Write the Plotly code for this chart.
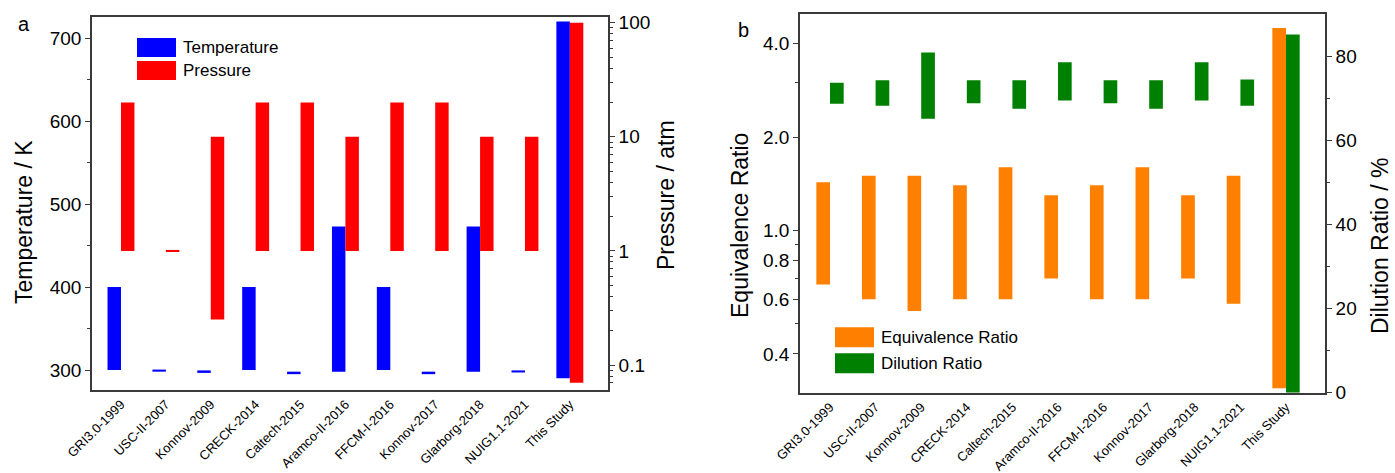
import plotly.graph_objects as go

# ---- data -------------------------------------------------------------
mechanisms = ["GRI3.0-1999", "USC-II-2007", "Konnov-2009", "CRECK-2014",
              "Caltech-2015", "Aramco-II-2016", "FFCM-I-2016", "Konnov-2017",
              "Glarborg-2018", "NUIG1.1-2021", "This Study"]

temp_low = [300, 298, 296.5, 300, 295, 298, 300, 295, 298, 297, 290]
temp_high = [400, 300.5, 299.5, 400, 298, 473, 400, 298, 473, 299.5, 720]

pres_low = [1, 0.98, 0.25, 1, 1, 1, 1, 1, 1, 1, 0.07]
pres_high = [20, 1.02, 10, 20, 20, 10, 20, 20, 10, 10, 100]

phi_low = [0.67, 0.60, 0.55, 0.60, 0.60, 0.70, 0.60, 0.60, 0.70, 0.58, 0.31]
phi_high = [1.43, 1.50, 1.50, 1.40, 1.60, 1.30, 1.40, 1.60, 1.30, 1.50, 4.50]

dil_low = [68.8, 68.3, 65.2, 68.9, 67.6, 69.6, 68.9, 67.6, 69.6, 68.3, 0]
dil_high = [73.8, 74.4, 81.0, 74.4, 74.4, 78.7, 74.4, 74.4, 78.7, 74.6, 85.3]

temp_ticks = [300, 400, 500, 600, 700]
pres_ticks = [0.1, 1, 10, 100]
phi_ticks = [0.4, 0.6, 0.8, 1.0, 2.0, 4.0]
dil_ticks = [0, 20, 40, 60, 80]

# ---- styling ----------------------------------------------------------
W, H = 1395, 473
FONT = "Liberation Sans, Arial, sans-serif"
AXIS_COLOR = "#3a3a3a"
BLUE, RED, ORANGE, GREEN = "#0000FF", "#FF0000", "#FF8000", "#008000"


def px(x):
    return x / W


def py(y):
    return 1 - y / H


def span(low, high):
    return [h - l for l, h in zip(low, high)]


BAR_W = 0.3

fig = go.Figure()

# panel a: temperature (left, linear) and pressure (right, log)
fig.add_trace(go.Bar(x=mechanisms, y=span(temp_low, temp_high), base=temp_low,
                     name="Temperature", marker=dict(color=BLUE, line_width=0),
                     offset=-BAR_W, width=BAR_W, xaxis="x", yaxis="y"))
fig.add_trace(go.Bar(x=mechanisms, y=span(pres_low, pres_high), base=pres_low,
                     name="Pressure", marker=dict(color=RED, line_width=0),
                     offset=0, width=BAR_W, xaxis="x", yaxis="y2"))

# panel b: equivalence ratio (left, log) and dilution ratio (right, linear)
fig.add_trace(go.Bar(x=mechanisms, y=span(phi_low, phi_high), base=phi_low,
                     name="Equivalence Ratio", marker=dict(color=ORANGE, line_width=0),
                     offset=-BAR_W, width=BAR_W, xaxis="x2", yaxis="y3"))
fig.add_trace(go.Bar(x=mechanisms, y=span(dil_low, dil_high), base=dil_low,
                     name="Dilution Ratio", marker=dict(color=GREEN, line_width=0),
                     offset=0, width=BAR_W, xaxis="x2", yaxis="y4"))

tick_font = dict(family=FONT, size=19, color="black")
cat_font = dict(family=FONT, size=13, color="black")

common_x = dict(type="category", showline=True, linecolor=AXIS_COLOR, linewidth=1.6,
                mirror=True, ticks="", tickangle=-45, tickfont=cat_font,
                showgrid=False, zeroline=False, automargin=False, fixedrange=True)
common_y = dict(showline=True, linecolor=AXIS_COLOR, linewidth=1.6, ticks="outside",
                ticklen=5, tickwidth=1.4, tickcolor=AXIS_COLOR, tickfont=tick_font,
                showgrid=False, zeroline=False, automargin=False)

minor_pres = [m * d for d in (0.01, 0.1, 1, 10) for m in range(2, 10)]

fig.update_layout(
    width=W, height=H,
    margin=dict(l=0, r=0, t=0, b=0),
    paper_bgcolor="white", plot_bgcolor="white",
    showlegend=False,
    font=dict(family=FONT, color="black"),
    xaxis=dict(common_x, domain=[px(92), px(608)], range=[-0.646, 10.85], anchor="y"),
    yaxis=dict(common_y, domain=[py(390), py(17)], range=[275.9, 725.3], anchor="x",
               side="left", tickmode="array", tickvals=temp_ticks,
               minor=dict(tickvals=[350, 450, 550, 650], ticklen=3, tickwidth=1.2,
                          tickcolor=AXIS_COLOR, ticks="outside")),
    yaxis2=dict(common_y, type="log", range=[-1.219, 2.05], overlaying="y", anchor="x",
                side="right", tickmode="array", tickvals=pres_ticks,
                ticktext=[str(v) for v in pres_ticks],
                minor=dict(tickvals=minor_pres, ticklen=3, tickwidth=1.2,
                           tickcolor=AXIS_COLOR, ticks="outside")),
    xaxis2=dict(common_x, domain=[px(800), px(1325)], range=[-0.658, 10.855], anchor="y3"),
    yaxis3=dict(common_y, type="log", domain=[py(392.7), py(14.3)],
                range=[-0.523, 0.697], anchor="x2", side="left",
                tickmode="array", tickvals=phi_ticks,
                ticktext=[f"{v:.1f}" for v in phi_ticks],
                minor=dict(tickvals=[0.5, 0.7, 0.9, 3.0], ticklen=3, tickwidth=1.2,
                           tickcolor=AXIS_COLOR, ticks="outside")),
    yaxis4=dict(common_y, range=[0, 90.1], overlaying="y3", anchor="x2", side="right",
                tickmode="array", tickvals=dil_ticks,
                minor=dict(tickvals=[10, 30, 50, 70], ticklen=3, tickwidth=1.2,
                           tickcolor=AXIS_COLOR, ticks="outside")),
)

# legend swatches and labels
legend_items = [
    (BLUE, "Temperature", 137, 176, 38, 57),
    (RED, "Pressure", 137, 176, 61, 80),
    (ORANGE, "Equivalence Ratio", 835, 874, 327.3, 347.3),
    (GREEN, "Dilution Ratio", 835, 874, 353.3, 373.3),
]
for color, label, x0, x1, y0, y1 in legend_items:
    fig.add_shape(type="rect", xref="paper", yref="paper",
                  x0=px(x0), x1=px(x1), y0=py(y1), y1=py(y0),
                  fillcolor=color, line=dict(width=0))
    fig.add_annotation(xref="paper", yref="paper", x=px(x1 + 5), y=py((y0 + y1) / 2),
                       text=label, showarrow=False, xanchor="left", yanchor="middle",
                       font=dict(family=FONT, size=17, color="black"))

# axis titles
titles = [
    ("Temperature / K", 24, 222),
    ("Pressure / atm", 666, 195),
    ("Equivalence Ratio", 740, 226),
    ("Dilution Ratio / %", 1380, 246),
]
for text, x, y in titles:
    fig.add_annotation(xref="paper", yref="paper", x=px(x), y=py(y), text=text,
                       textangle=-90, showarrow=False, xanchor="center", yanchor="middle",
                       font=dict(family=FONT, size=23, color="black"))

# panel letters
for letter, x, y in [("a", 24, 24), ("b", 743, 30)]:
    fig.add_annotation(xref="paper", yref="paper", x=px(x), y=py(y), text=letter,
                       showarrow=False, xanchor="center", yanchor="middle",
                       font=dict(family=FONT, size=20, color="black"))

fig.write_html("out.html")
